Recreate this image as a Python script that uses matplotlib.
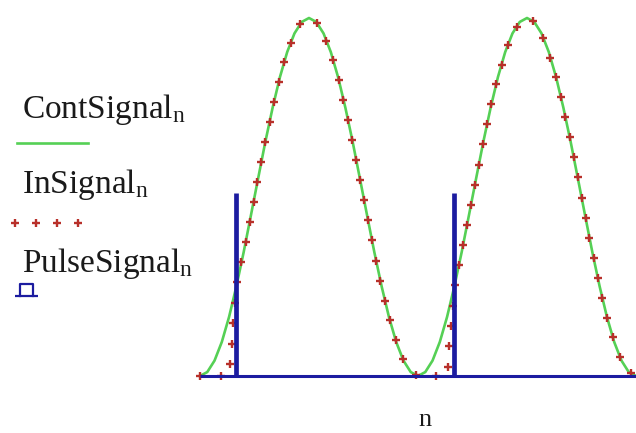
import numpy as np
import matplotlib
matplotlib.use("Agg")
import matplotlib.pyplot as plt
from matplotlib.patheffects import AbstractPathEffect
from matplotlib.path import Path
from matplotlib.transforms import Affine2D, IdentityTransform

# sample index and the three traces
n_values = list(range(61))

cont_signal = [0.0, 0.011, 0.043, 0.095, 0.165, 0.25, 0.345, 0.448, 0.552, 0.655,
               0.75, 0.835, 0.905, 0.957, 0.989, 1.0, 0.989, 0.957, 0.905, 0.835,
               0.75, 0.655, 0.552, 0.448, 0.345, 0.25, 0.165, 0.095, 0.043, 0.011,
               0.0, 0.011, 0.043, 0.095, 0.165, 0.25, 0.345, 0.448, 0.552, 0.655,
               0.75, 0.835, 0.905, 0.957, 0.989, 1.0, 0.989, 0.957, 0.905, 0.835,
               0.75, 0.655, 0.552, 0.448, 0.345, 0.25, 0.165, 0.095, 0.043, 0.011,
               0.0]

in_signal = [0.0, 0.0, 0.0, 0.0, 0.0, 0.25, 0.345, 0.448, 0.552, 0.655,
             0.75, 0.835, 0.905, 0.957, 0.989, 1.0, 0.989, 0.957, 0.905, 0.835,
             0.75, 0.655, 0.552, 0.448, 0.345, 0.25, 0.165, 0.095, 0.043, 0.011,
             0.0, 0.0, 0.0, 0.0, 0.0, 0.25, 0.345, 0.448, 0.552, 0.655,
             0.75, 0.835, 0.905, 0.957, 0.989, 1.0, 0.989, 0.957, 0.905, 0.835,
             0.75, 0.655, 0.552, 0.448, 0.345, 0.25, 0.165, 0.095, 0.043, 0.011,
             0.0]

pulse_signal = [0.0] * 61
pulse_signal[5] = 0.51
pulse_signal[35] = 0.51

legend_labels = ["ContSignal", "InSignal", "PulseSignal"]
x_label = "n"

GREEN = "#55d055"
RED = "#b8302a"
BLUE = "#1c1ca0"

plt.rcParams["font.family"] = ["Liberation Serif", "DejaVu Serif"]
plt.rcParams["mathtext.fontset"] = "custom"
plt.rcParams["mathtext.rm"] = "Liberation Serif"
plt.rcParams["mathtext.it"] = "Liberation Serif:italic"


class PlusAlongPath(AbstractPathEffect):
    """Mathcad style dotted trace: '+' marks at equal screen distance along the line."""

    def __init__(self, spacing, half, color, lw):
        super().__init__()
        self.spacing = spacing
        self.half = half
        self.color = color
        self.lw = lw

    def draw_path(self, renderer, gc, tpath, affine, rgbFace=None):
        verts = affine.transform(tpath.vertices)
        seg = np.hypot(*np.diff(verts, axis=0).T)
        cum = np.concatenate([[0.0], np.cumsum(seg)])
        d = np.arange(0.0, cum[-1] + 0.01, self.spacing)
        xs = np.interp(d, cum, verts[:, 0])
        ys = np.interp(d, cum, verts[:, 1])
        h = self.half
        plus = Path([[-h, 0], [h, 0], [0, -h], [0, h]],
                    [Path.MOVETO, Path.LINETO, Path.MOVETO, Path.LINETO])
        gc0 = renderer.new_gc()
        gc0.copy_properties(gc)
        gc0.set_foreground(self.color)
        gc0.set_linewidth(self.lw)
        gc0.set_capstyle("butt")
        renderer.draw_markers(gc0, plus, Affine2D(),
                              Path(np.column_stack([xs, ys])), IdentityTransform())
        gc0.restore()


W, H = 636, 433
fig = plt.figure(figsize=(W / 100, H / 100), dpi=100)

ax = fig.add_axes([200 / W, 1 - 376 / H, 436 / W, 358 / H])
ax.set_xlim(n_values[0], n_values[-1])
ax.set_ylim(0, 1)
ax.axis("off")

ax.plot(n_values, cont_signal, color=GREEN, lw=1.9, zorder=1, clip_on=False)
ax.plot(n_values, in_signal, color=RED, zorder=2, clip_on=False,
        path_effects=[PlusAlongPath(20.5, 4.0, RED, 1.7)])

# pulse trace: zero level plus the spikes
ax.hlines(0, n_values[0], n_values[-1], color=BLUE, lw=2.2, zorder=3, clip_on=False)
spikes = [n for n, p in zip(n_values, pulse_signal) if p > 0]
heights = [p for p in pulse_signal if p > 0]
ax.vlines(spikes, 0, heights, color=BLUE, lw=3.4, zorder=3, clip_on=False)

# legend drawn in pixel coordinates on an overlay
lg = fig.add_axes([0, 0, 1, 1], zorder=-1)
lg.set_xlim(0, W)
lg.set_ylim(H, 0)
lg.axis("off")

for label, y in zip(legend_labels, [118, 193, 272]):
    lg.text(22, y, label + r"$_{\mathrm{n}}$", fontsize=24, va="baseline",
            ha="left", color="#1a1a1a")

lg.plot([17, 88], [143, 143], color=GREEN, lw=1.9)
lg.plot([15, 36, 57, 78], [223, 223, 223, 223], ls="none", marker="+",
        ms=6, mew=1.7, color=RED)
lg.plot([15, 38], [296, 296], color=BLUE, lw=1.6, solid_capstyle="butt")
lg.plot([20, 20, 33, 33], [296, 284, 284, 296], color=BLUE, lw=1.6)

lg.text(425, 426, x_label, fontsize=19, va="baseline", ha="center", color="#1a1a1a")

fig.savefig("out.png", dpi=100)
